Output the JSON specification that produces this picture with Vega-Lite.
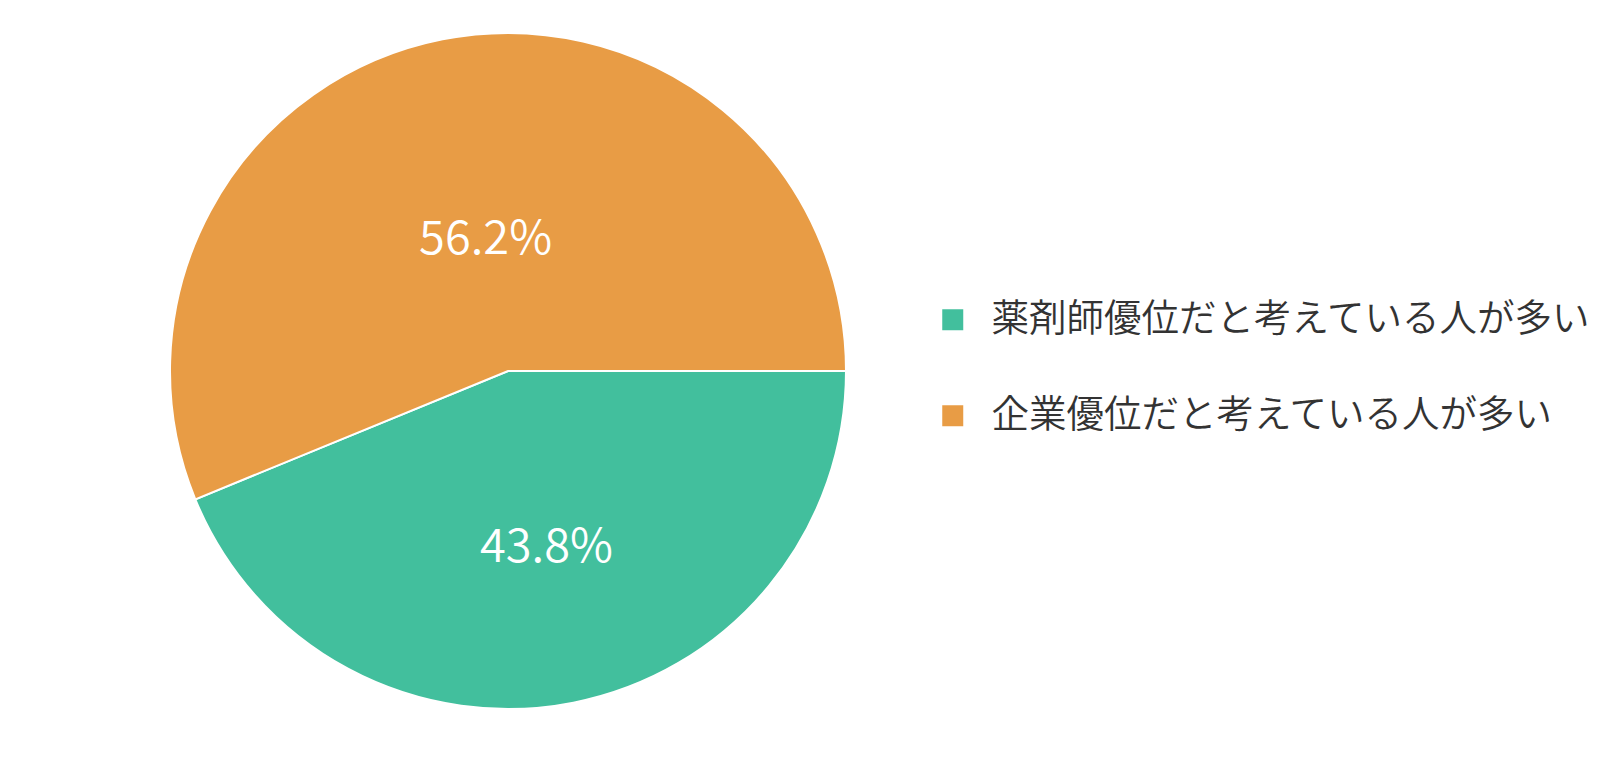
{
  "$schema": "https://vega.github.io/schema/vega-lite/v6.json",
  "width": 674,
  "height": 674,
  "padding": {"left": 171, "top": 34, "right": 775, "bottom": 52},
  "autosize": {"type": "none"},
  "background": "white",
  "config": {"view": {"stroke": null}},
  "data": {
    "values": [
      {"category": "薬剤師優位だと考えている人が多い", "value": 43.8, "label": "43.8%", "order": 1},
      {"category": "企業優位だと考えている人が多い", "value": 56.2, "label": "56.2%", "order": 2}
    ]
  },
  "encoding": {
    "theta": {"field": "value", "type": "quantitative", "stack": true, "scale": {"range": [1.5707963, 7.8539816]}},
    "order": {"field": "order", "type": "quantitative"}
  },
  "layer": [
    {
      "mark": {"type": "arc", "outerRadius": 338, "stroke": "white", "strokeWidth": 2},
      "encoding": {
        "color": {
          "field": "category",
          "type": "nominal",
          "scale": {
            "domain": ["薬剤師優位だと考えている人が多い", "企業優位だと考えている人が多い"],
            "range": ["#42BF9D", "#E89C45"]
          },
          "legend": {
            "title": null,
            "orient": "none",
            "legendX": 763,
            "legendY": 267,
            "symbolType": "square",
            "symbolSize": 441,
            "symbolStrokeWidth": 0,
            "labelFont": "Noto Sans CJK JP",
            "labelFontWeight": 350,
            "labelFontSize": 37.5,
            "labelColor": "#333333",
            "labelOffset": 20,
            "labelLimit": 1000,
            "rowPadding": 57,
            "padding": 0
          }
        }
      }
    },
    {
      "mark": {"type": "text", "radius": 157, "dx": 8, "dy": 23, "fontSize": 47, "font": "Noto Sans CJK JP", "fontWeight": 350, "color": "white", "align": "center", "baseline": "middle"},
      "encoding": {
        "text": {"field": "label", "type": "nominal"}
      }
    }
  ]
}
